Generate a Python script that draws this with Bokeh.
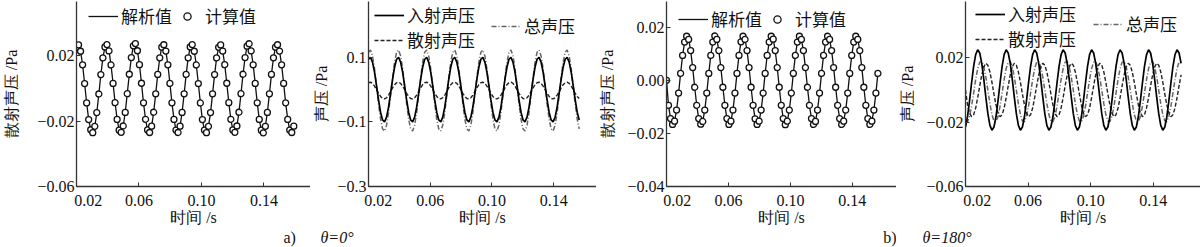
from bokeh.plotting import figure
from bokeh.layouts import row
from bokeh.models import FixedTicker, Legend, LegendItem, LinearAxis, Title
from bokeh.embed import file_html
from bokeh.resources import INLINE

# ---------------- data ----------------
time_s = [
    0.0200, 0.0213, 0.0226, 0.0239, 0.0252, 0.0265, 0.0278, 0.0291, 0.0304, 0.0317,
    0.0330, 0.0343, 0.0356, 0.0369, 0.0382, 0.0395, 0.0408, 0.0421, 0.0434, 0.0447,
    0.0460, 0.0473, 0.0486, 0.0499, 0.0512, 0.0525, 0.0538, 0.0551, 0.0564, 0.0577,
    0.0590, 0.0603, 0.0616, 0.0629, 0.0642, 0.0655, 0.0668, 0.0681, 0.0694, 0.0707,
    0.0720, 0.0733, 0.0746, 0.0759, 0.0772, 0.0785, 0.0798, 0.0811, 0.0824, 0.0837,
    0.0850, 0.0863, 0.0876, 0.0889, 0.0902, 0.0915, 0.0928, 0.0941, 0.0954, 0.0967,
    0.0980, 0.0993, 0.1006, 0.1019, 0.1032, 0.1045, 0.1058, 0.1071, 0.1084, 0.1097,
    0.1110, 0.1123, 0.1136, 0.1149, 0.1162, 0.1175, 0.1188, 0.1201, 0.1214, 0.1227,
    0.1240, 0.1253, 0.1266, 0.1279, 0.1292, 0.1305, 0.1318, 0.1331, 0.1344, 0.1357,
    0.1370, 0.1383, 0.1396, 0.1409, 0.1422, 0.1435, 0.1448, 0.1461, 0.1474, 0.1487,
    0.1500, 0.1513, 0.1526, 0.1539, 0.1552, 0.1565, 0.1578, 0.1591,
]

# a) theta = 0 deg : scattered pressure (analytic line and computed points)
scat_0deg = [
    0.0254, 0.0268, 0.0229, 0.0146, 0.0031, -0.0088, -0.0190, -0.0252, -0.0270, -0.0231, -0.0147, -0.0033, 0.0086, 0.0188,
    0.0255, 0.0270, 0.0231, 0.0145, 0.0032, -0.0086, -0.0189, -0.0255, -0.0268, -0.0229, -0.0146, -0.0031, 0.0088, 0.0190,
    0.0262, 0.0276, 0.0232, 0.0147, 0.0033, -0.0087, -0.0188, -0.0253, -0.0269, -0.0230, -0.0145, -0.0032, 0.0087, 0.0189,
    0.0254, 0.0269, 0.0230, 0.0146, 0.0032, -0.0087, -0.0189, -0.0254, -0.0269, -0.0230, -0.0146, -0.0032, 0.0087, 0.0189,
    0.0255, 0.0270, 0.0229, 0.0145, 0.0031, -0.0088, -0.0190, -0.0254, -0.0270, -0.0231, -0.0147, -0.0032, 0.0086, 0.0188,
    0.0253, 0.0268, 0.0230, 0.0147, 0.0033, -0.0086, -0.0188, -0.0253, -0.0268, -0.0229, -0.0145, -0.0031, 0.0088, 0.0190,
    0.0260, 0.0275, 0.0231, 0.0146, 0.0032, -0.0087, -0.0189, -0.0255, -0.0271, -0.0231, -0.0146, -0.0032, 0.0087, 0.0189,
    0.0254, 0.0269, 0.0230, 0.0146, 0.0032, -0.0087, -0.0189, -0.0254, -0.0269, -0.0230,
]

# a) theta = 0 deg : incident / scattered / total pressure
inc_0deg = [
    0.094, 0.100, 0.085, 0.054, 0.012, -0.032, -0.070, -0.094, -0.100, -0.085, -0.054, -0.012, 0.032, 0.070,
    0.094, 0.100, 0.085, 0.054, 0.012, -0.032, -0.070, -0.094, -0.100, -0.085, -0.054, -0.012, 0.032, 0.070,
    0.094, 0.100, 0.085, 0.054, 0.012, -0.032, -0.070, -0.094, -0.100, -0.085, -0.054, -0.012, 0.032, 0.070,
    0.094, 0.100, 0.085, 0.054, 0.012, -0.032, -0.070, -0.094, -0.100, -0.085, -0.054, -0.012, 0.032, 0.070,
    0.094, 0.100, 0.085, 0.054, 0.012, -0.032, -0.070, -0.094, -0.100, -0.085, -0.054, -0.012, 0.032, 0.070,
    0.094, 0.100, 0.085, 0.054, 0.012, -0.032, -0.070, -0.094, -0.100, -0.085, -0.054, -0.012, 0.032, 0.070,
    0.094, 0.100, 0.085, 0.054, 0.012, -0.032, -0.070, -0.094, -0.100, -0.085, -0.054, -0.012, 0.032, 0.070,
    0.094, 0.100, 0.085, 0.054, 0.012, -0.032, -0.070, -0.094,
]
scat_0deg_b = [
    0.0215, 0.0229, 0.0192, 0.0110, 0.0001, -0.0114, -0.0212, -0.0275, -0.0289, -0.0252, -0.0170, -0.0061, 0.0054, 0.0152,
    0.0215, 0.0229, 0.0192, 0.0110, 0.0001, -0.0114, -0.0212, -0.0275, -0.0289, -0.0252, -0.0170, -0.0061, 0.0054, 0.0152,
    0.0215, 0.0229, 0.0192, 0.0110, 0.0001, -0.0114, -0.0212, -0.0275, -0.0289, -0.0252, -0.0170, -0.0061, 0.0054, 0.0152,
    0.0215, 0.0229, 0.0192, 0.0110, 0.0001, -0.0114, -0.0212, -0.0275, -0.0289, -0.0252, -0.0170, -0.0061, 0.0054, 0.0152,
    0.0215, 0.0229, 0.0192, 0.0110, 0.0001, -0.0114, -0.0212, -0.0275, -0.0289, -0.0252, -0.0170, -0.0061, 0.0054, 0.0152,
    0.0215, 0.0229, 0.0192, 0.0110, 0.0001, -0.0114, -0.0212, -0.0275, -0.0289, -0.0252, -0.0170, -0.0061, 0.0054, 0.0152,
    0.0215, 0.0229, 0.0192, 0.0110, 0.0001, -0.0114, -0.0212, -0.0275, -0.0289, -0.0252, -0.0170, -0.0061, 0.0054, 0.0152,
    0.0215, 0.0229, 0.0192, 0.0110, 0.0001, -0.0114, -0.0212, -0.0275,
]
total_0deg = [
    0.1155, 0.1224, 0.1042, 0.0650, 0.0121, -0.0434, -0.0912, -0.1215, -0.1284, -0.1102, -0.0710, -0.0181, 0.0374, 0.0852,
    0.1155, 0.1224, 0.1042, 0.0650, 0.0121, -0.0434, -0.0912, -0.1215, -0.1284, -0.1102, -0.0710, -0.0181, 0.0374, 0.0852,
    0.1155, 0.1224, 0.1042, 0.0650, 0.0121, -0.0434, -0.0912, -0.1215, -0.1284, -0.1102, -0.0710, -0.0181, 0.0374, 0.0852,
    0.1155, 0.1224, 0.1042, 0.0650, 0.0121, -0.0434, -0.0912, -0.1215, -0.1284, -0.1102, -0.0710, -0.0181, 0.0374, 0.0852,
    0.1155, 0.1224, 0.1042, 0.0650, 0.0121, -0.0434, -0.0912, -0.1215, -0.1284, -0.1102, -0.0710, -0.0181, 0.0374, 0.0852,
    0.1155, 0.1224, 0.1042, 0.0650, 0.0121, -0.0434, -0.0912, -0.1215, -0.1284, -0.1102, -0.0710, -0.0181, 0.0374, 0.0852,
    0.1155, 0.1224, 0.1042, 0.0650, 0.0121, -0.0434, -0.0912, -0.1215, -0.1284, -0.1102, -0.0710, -0.0181, 0.0374, 0.0852,
    0.1155, 0.1224, 0.1042, 0.0650, 0.0121, -0.0434, -0.0912, -0.1215,
]

# b) theta = 180 deg : scattered pressure (analytic line and computed points)
scat_180deg = [
    0.0000, -0.0094, -0.0144, -0.0166, -0.0154, -0.0112, -0.0048, 0.0026, 0.0094, 0.0144, 0.0166, 0.0154, 0.0112, 0.0048,
    -0.0026, -0.0094, -0.0144, -0.0165, -0.0155, -0.0112, -0.0048, 0.0026, 0.0094, 0.0144, 0.0167, 0.0154, 0.0112, 0.0048,
    -0.0026, -0.0094, -0.0144, -0.0166, -0.0154, -0.0112, -0.0048, 0.0026, 0.0094, 0.0145, 0.0166, 0.0154, 0.0112, 0.0048,
    -0.0026, -0.0094, -0.0145, -0.0166, -0.0154, -0.0112, -0.0048, 0.0026, 0.0094, 0.0144, 0.0166, 0.0155, 0.0112, 0.0048,
    -0.0026, -0.0094, -0.0144, -0.0167, -0.0154, -0.0112, -0.0048, 0.0026, 0.0094, 0.0144, 0.0166, 0.0154, 0.0112, 0.0048,
    -0.0026, -0.0094, -0.0144, -0.0166, -0.0155, -0.0112, -0.0048, 0.0026, 0.0094, 0.0144, 0.0166, 0.0154, 0.0112, 0.0048,
    -0.0026, -0.0094, -0.0144, -0.0166, -0.0154, -0.0112, -0.0048, 0.0026, 0.0094, 0.0144, 0.0166, 0.0154, 0.0112, 0.0048,
    -0.0026, -0.0094, -0.0144, -0.0166, -0.0154, -0.0112, -0.0048, 0.0026,
]

# b) theta = 180 deg : incident / scattered / total pressure
inc_180deg = [
    -0.0230, -0.0165, -0.0066, 0.0045, 0.0147, 0.0220, 0.0250, 0.0230, 0.0165, 0.0066, -0.0045, -0.0147, -0.0220, -0.0250,
    -0.0230, -0.0165, -0.0066, 0.0045, 0.0147, 0.0220, 0.0250, 0.0230, 0.0165, 0.0066, -0.0045, -0.0147, -0.0220, -0.0250,
    -0.0230, -0.0165, -0.0066, 0.0045, 0.0147, 0.0220, 0.0250, 0.0230, 0.0165, 0.0066, -0.0045, -0.0147, -0.0220, -0.0250,
    -0.0230, -0.0165, -0.0066, 0.0045, 0.0147, 0.0220, 0.0250, 0.0230, 0.0165, 0.0066, -0.0045, -0.0147, -0.0220, -0.0250,
    -0.0230, -0.0165, -0.0066, 0.0045, 0.0147, 0.0220, 0.0250, 0.0230, 0.0165, 0.0066, -0.0045, -0.0147, -0.0220, -0.0250,
    -0.0230, -0.0165, -0.0066, 0.0045, 0.0147, 0.0220, 0.0250, 0.0230, 0.0165, 0.0066, -0.0045, -0.0147, -0.0220, -0.0250,
    -0.0230, -0.0165, -0.0066, 0.0045, 0.0147, 0.0220, 0.0250, 0.0230, 0.0165, 0.0066, -0.0045, -0.0147, -0.0220, -0.0250,
    -0.0230, -0.0165, -0.0066, 0.0045, 0.0147, 0.0220, 0.0250, 0.0230, 0.0165,
]
scat_180deg_b = [
    0.0000, -0.0094, -0.0144, -0.0166, -0.0154, -0.0112, -0.0048, 0.0026, 0.0094, 0.0144, 0.0166, 0.0154, 0.0112, 0.0048,
    -0.0026, -0.0094, -0.0144, -0.0166, -0.0154, -0.0112, -0.0048, 0.0026, 0.0094, 0.0144, 0.0166, 0.0154, 0.0112, 0.0048,
    -0.0026, -0.0094, -0.0144, -0.0166, -0.0154, -0.0112, -0.0048, 0.0026, 0.0094, 0.0144, 0.0166, 0.0154, 0.0112, 0.0048,
    -0.0026, -0.0094, -0.0144, -0.0166, -0.0154, -0.0112, -0.0048, 0.0026, 0.0094, 0.0144, 0.0166, 0.0154, 0.0112, 0.0048,
    -0.0026, -0.0094, -0.0144, -0.0166, -0.0154, -0.0112, -0.0048, 0.0026, 0.0094, 0.0144, 0.0166, 0.0154, 0.0112, 0.0048,
    -0.0026, -0.0094, -0.0144, -0.0166, -0.0154, -0.0112, -0.0048, 0.0026, 0.0094, 0.0144, 0.0166, 0.0154, 0.0112, 0.0048,
    -0.0026, -0.0094, -0.0144, -0.0166, -0.0154, -0.0112, -0.0048, 0.0026, 0.0094, 0.0144, 0.0166, 0.0154, 0.0112, 0.0048,
    -0.0026, -0.0094, -0.0144, -0.0166, -0.0154, -0.0112, -0.0048, 0.0026, 0.0094,
]
total_180deg = [
    -0.0193, -0.0197, -0.0164, -0.0100, -0.0019, 0.0065, 0.0133, 0.0173, 0.0177, 0.0144, 0.0080, -0.0001, -0.0085, -0.0153,
    -0.0193, -0.0197, -0.0164, -0.0100, -0.0019, 0.0065, 0.0133, 0.0173, 0.0177, 0.0144, 0.0080, -0.0001, -0.0085, -0.0153,
    -0.0193, -0.0197, -0.0164, -0.0100, -0.0019, 0.0065, 0.0133, 0.0173, 0.0177, 0.0144, 0.0080, -0.0001, -0.0085, -0.0153,
    -0.0193, -0.0197, -0.0164, -0.0100, -0.0019, 0.0065, 0.0133, 0.0173, 0.0177, 0.0144, 0.0080, -0.0001, -0.0085, -0.0153,
    -0.0193, -0.0197, -0.0164, -0.0100, -0.0019, 0.0065, 0.0133, 0.0173, 0.0177, 0.0144, 0.0080, -0.0001, -0.0085, -0.0153,
    -0.0193, -0.0197, -0.0164, -0.0100, -0.0019, 0.0065, 0.0133, 0.0173, 0.0177, 0.0144, 0.0080, -0.0001, -0.0085, -0.0153,
    -0.0193, -0.0197, -0.0164, -0.0100, -0.0019, 0.0065, 0.0133, 0.0173, 0.0177, 0.0144, 0.0080, -0.0001, -0.0085, -0.0153,
    -0.0193, -0.0197, -0.0164, -0.0100, -0.0019, 0.0065, 0.0133, 0.0173, 0.0177,
]

x_ticks = [0.02, 0.06, 0.10, 0.14]
x_tick_labels = ["0.02", "0.06", "0.10", "0.14"]
y_ticks_a1 = [-0.06, -0.02, 0.02]
y_labels_a1 = ["\u22120.06", "\u22120.02", "0.02"]
y_ticks_a2 = [-0.3, -0.1, 0.1]
y_labels_a2 = ["\u22120.3", "\u22120.1", "0.1"]
y_ticks_b1 = [-0.04, -0.02, 0.0, 0.02]
y_labels_b1 = ["\u22120.04", "\u22120.02", "0.00", "0.02"]
y_ticks_b2 = [-0.06, -0.02, 0.02]
y_labels_b2 = ["\u22120.06", "\u22120.02", "0.02"]

SERIF = "Liberation Serif"
CJK = "Noto Sans CJK SC"
INK = "#111111"
H = 247
TOP, BOTTOM = 1, 61


def make_fig(width, left, xend, yr, yticks, ylabels, ylabel, ystandoff, first_shift):
    p = figure(width=width, height=H, x_range=(0.02, xend), y_range=yr,
               output_backend="svg", toolbar_location=None,
               min_border_left=left, min_border_right=0,
               min_border_top=TOP, min_border_bottom=BOTTOM)
    p.outline_line_color = None
    p.grid.visible = False
    p.background_fill_color = "white"
    p.border_fill_color = "white"
    for ax in (p.xaxis[0], p.yaxis[0]):
        ax.axis_line_color = "#333333"
        ax.axis_line_width = 1.3
        ax.major_tick_line_color = "#333333"
        ax.major_tick_in = 4
        ax.major_tick_out = 0
        ax.minor_tick_in = 0
        ax.minor_tick_out = 0
        ax.major_label_text_font = SERIF
        ax.major_label_text_font_size = "16px"
        ax.major_label_text_color = INK
        ax.axis_label_text_font = SERIF
        ax.axis_label_text_font_size = "16px"
        ax.axis_label_text_font_style = "normal"
        ax.axis_label_text_color = INK
    # axis line + inward ticks, no labels
    xa = p.xaxis[0]
    xa.ticker = FixedTicker(ticks=x_ticks)
    xa.major_label_overrides = {t: "" for t in x_ticks}
    xa.major_label_text_font_size = "0px"
    xa.major_label_standoff = 0
    # label-only axis (first label sits just right of the y axis, as in the original)
    px_per_unit = (width - left) / (xend - 0.02)
    lab_ticks = [x_ticks[0] + first_shift / px_per_unit] + x_ticks[1:]
    la = LinearAxis(ticker=FixedTicker(ticks=lab_ticks),
                    major_label_overrides=dict(zip(lab_ticks, x_tick_labels)),
                    axis_line_color=None, major_tick_line_color=None, minor_tick_line_color=None,
                    major_label_standoff=2, major_label_text_font=SERIF,
                    major_label_text_font_size="16px", major_label_text_color=INK,
                    axis_label="时间 /s", axis_label_standoff=0, axis_label_text_font=SERIF,
                    axis_label_text_font_size="16px", axis_label_text_font_style="normal",
                    axis_label_text_color=INK)
    p.add_layout(la, "below")
    ya = p.yaxis[0]
    ya.ticker = FixedTicker(ticks=yticks)
    ya.major_label_overrides = dict(zip(yticks, ylabels))
    ya.major_label_standoff = 2
    ya.axis_label = ylabel
    ya.axis_label_standoff = ystandoff
    return p


def add_caption(p, text, align, offset, italic=False):
    t = Title(text=text, align=align, offset=offset, standoff=0, vertical_align="top",
              text_font=SERIF, text_font_size="16px",
              text_font_style="italic" if italic else "normal",
              text_color=INK)
    p.add_layout(t, "below")


def legend(items, loc, orientation="vertical", spacing=-4):
    return Legend(items=items, location=loc, orientation=orientation, spacing=spacing,
                  padding=0, margin=0, glyph_width=30, glyph_height=18, label_height=18,
                  label_standoff=3, label_text_font=CJK, label_text_font_size="17px",
                  label_text_color=INK, border_line_color=None,
                  background_fill_alpha=0)


# ---- panel a1 ----
p1 = make_fig(310, 73, 0.1698, (-0.06, 0.0534), y_ticks_a1, y_labels_a1, "散射声压 /Pa", 14, 12)
n = len(scat_0deg)
l1 = p1.line(time_s[:n], scat_0deg, line_color=INK, line_width=1.3)
s1 = p1.scatter(time_s[:n], scat_0deg, size=6, marker="circle", line_color=INK,
                line_width=1.3, fill_color="white")
p1.add_layout(legend([LegendItem(label="解析值", renderers=[l1]),
                      LegendItem(label="计算值", renderers=[s1])], (12, 158), "horizontal", -7))
add_caption(p1, "a)", "left", 207)

# ---- panel a2 ----
p2 = make_fig(286, 52, 0.1677, (-0.3, 0.2728), y_ticks_a2, y_labels_a2, "声压 /Pa", 4, 10)
n = len(inc_0deg)
r_tot = p2.line(time_s[:n], total_0deg, line_color="#666666", line_width=1.5, line_dash="5 2 1 2")
r_sca = p2.line(time_s[:n], scat_0deg_b, line_color="#222222", line_width=1.4, line_dash="4 2")
r_inc = p2.line(time_s[:n], inc_0deg, line_color="#000000", line_width=1.7)
p2.add_layout(legend([LegendItem(label="入射声压", renderers=[r_inc]),
                      LegendItem(label="散射声压", renderers=[r_sca])], (6, 134), spacing=-8))
p2.add_layout(legend([LegendItem(label="总声压", renderers=[r_tot])], (123, 148)))
add_caption(p2, "θ=0°", "left", -48, italic=True)

# ---- panel b1 ----
p3 = make_fig(300, 65, 0.1685, (-0.04, 0.0297), y_ticks_b1, y_labels_b1, "散射声压 /Pa", 8, 11)
n = len(scat_180deg)
l3 = p3.line(time_s[:n], scat_180deg, line_color=INK, line_width=1.3)
s3 = p3.scatter(time_s[:n], scat_180deg, size=6, marker="circle", line_color=INK,
                line_width=1.3, fill_color="white")
p3.add_layout(legend([LegendItem(label="解析值", renderers=[l3]),
                      LegendItem(label="计算值", renderers=[s3])], (12, 155), "horizontal", -7))
add_caption(p3, "b)", "right", 0)

# ---- panel b2 ----
p4 = make_fig(304, 63, 0.1702, (-0.06, 0.0550), y_ticks_b2, y_labels_b2, "声压 /Pa", 7, 12)
n = len(inc_180deg)
r_tot4 = p4.line(time_s[:n], total_180deg, line_color="#666666", line_width=1.5, line_dash="5 2 1 2")
r_sca4 = p4.line(time_s[:n], scat_180deg_b, line_color="#222222", line_width=1.4, line_dash="4 2")
r_inc4 = p4.line(time_s[:n], inc_180deg, line_color="#000000", line_width=1.7)
p4.add_layout(legend([LegendItem(label="入射声压", renderers=[r_inc4]),
                      LegendItem(label="散射声压", renderers=[r_sca4])], (10, 135), spacing=-9))
p4.add_layout(legend([LegendItem(label="总声压", renderers=[r_tot4])], (128, 150)))
add_caption(p4, "θ=180°", "left", -43, italic=True)

layout = row(p1, p2, p3, p4)
open("out.html", "w").write(file_html(layout, INLINE))
